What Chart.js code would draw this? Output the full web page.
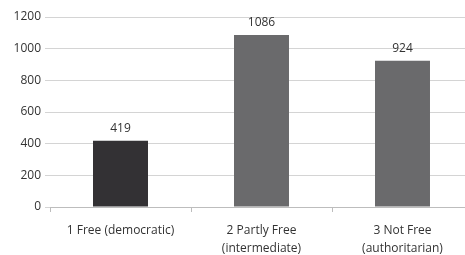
<!DOCTYPE html>
<html>
<head>
<meta charset="utf-8">
<script src="https://cdn.jsdelivr.net/npm/chart.js@4/dist/chart.umd.min.js"></script>
<style>
  html, body { margin: 0; padding: 0; background: #fff; overflow: hidden; }
  #wrap { width: 465px; height: 255px; overflow: hidden; }
</style>
</head>
<body>
<div id="wrap"><canvas id="myChart" width="473" height="255"></canvas></div>
<script>
const categories = ['1 Free (democratic)', ['2 Partly Free', '(intermediate)'], ['3 Not Free', '(authoritarian)']]
const values = [419, 1086, 924]
const barColors = ['#333134', '#6a6a6c', '#6a6a6c']
const yTicks = [0, 200, 400, 600, 800, 1000, 1200]

const textColor = '#333333'
const fontFamily = '"Open Sans", "Liberation Sans", sans-serif'

const valueLabels = {
  id: 'valueLabels',
  afterDatasetsDraw(chart) {
    const ctx = chart.ctx
    const meta = chart.getDatasetMeta(0)
    ctx.save()
    ctx.font = '12px ' + fontFamily
    ctx.fillStyle = textColor
    ctx.textAlign = 'center'
    ctx.textBaseline = 'bottom'
    meta.data.forEach((bar, i) => {
      ctx.fillText(values[i], bar.x, bar.y - 6)
    })
    ctx.restore()
  },
}

new Chart('myChart', {
  type: 'bar',
  data: {
    labels: categories,
    datasets: [
      {
        data: values,
        backgroundColor: barColors,
        barPercentage: 0.39,
        categoryPercentage: 1,
      },
    ],
  },
  options: {
    responsive: false,
    animation: false,
    layout: {padding: {top: 17, right: 0, left: 0, bottom: 0}},
    plugins: {
      legend: {display: false},
      tooltip: {enabled: false},
    },
    scales: {
      x: {
        grid: {display: true, drawOnChartArea: false, offset: true, tickLength: 5, color: '#bdbdbd'},
        border: {display: true, color: '#bdbdbd'},
        ticks: {color: textColor, font: {family: fontFamily, size: 12, lineHeight: 1.5}, padding: 10, maxRotation: 0},
        afterFit: scale => { scale.height = 48 },
      },
      y: {
        min: 0,
        max: 1200,
        afterBuildTicks: scale => { scale.ticks = yTicks.map(v => ({value: v})) },
        grid: {color: '#d4d4d4', tickLength: 5},
        border: {display: false},
        ticks: {
          color: textColor,
          font: {family: fontFamily, size: 12},
          padding: 4,
          callback: value => String(value),
        },
        afterFit: scale => { scale.width = 50 },
      },
    },
  },
  plugins: [valueLabels],
})
</script>
</body>
</html>
